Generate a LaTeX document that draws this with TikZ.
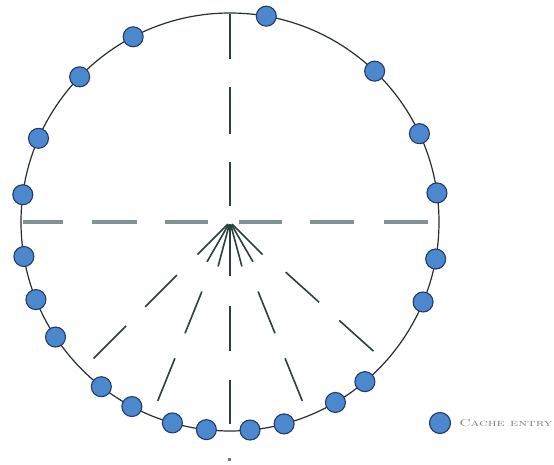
\documentclass[tikz,border=0pt]{standalone}
\usepackage{fontspec}
\usepackage{tikz}
\usetikzlibrary{positioning,calc}
\definecolor{entryblue}{RGB}{76,136,206}
\definecolor{entryedge}{RGB}{36,56,108}
\definecolor{ringcol}{RGB}{38,48,48}
\definecolor{spokecol}{RGB}{44,62,62}
\definecolor{dashcol}{RGB}{128,146,146}
\newcommand{\widesc}[1]{\scalebox{1.45}[1]{\scshape #1}}
\tikzset{
  ringline/.style   = {ringcol, line width=1.2pt},
  spokeln/.style    = {spokecol, line width=1.6pt},
  crossdash/.style  = {dashcol, line width=3.6pt},
  cacheentry/.style = {circle, minimum size=20pt, inner sep=0pt,
                       fill=entryblue, draw=entryedge, line width=1.1pt},
  legendtxt/.style  = {text=black!50, inner sep=0pt,
                       font=\fontsize{10}{10}\selectfont}
}

\begin{document}
\begin{tikzpicture}[x=1pt,y=1pt]
  % picture frame, the ring centre sits at the origin
  \useasboundingbox (-230,-242) rectangle (324,222);
  \coordinate (O) at (0,0);

  % --- the horizontal dashed diameter ------------------------------------
  \draw[crossdash] (-207,0) -- (-167,0);
  \draw[crossdash] (-138,0) -- (-93,0);
  \draw[crossdash] (-65,0) -- (-22,0);
  \draw[crossdash] (9,0) -- (52,0);
  \draw[crossdash] (80,0) -- (124,0);
  \draw[crossdash] (154,0) -- (198,0);

  % --- upper half of the vertical dashed line ----------------------------
  \draw[spokeln] (0,16) -- (0,60);
  \draw[spokeln] (0,88) -- (0,135);
  \draw[spokeln] (0,163) -- (0,208);

  % --- the fan below the centre ------------------------------------------
  % short strokes next to the centre
  \foreach \ang in {225,240,255,285,300,315}
    \draw[spokeln] ($(O)+(\ang:3)$) -- ($(O)+(\ang:46)$);
  \draw[spokeln] (0,-2) -- (0,-54);
  % the dashed rays further out
  \foreach \ang in {225,248,292,318} {
    \draw[spokeln] (\ang:75) -- (\ang:120);
    \draw[spokeln] (\ang:147) -- (\ang:193);
  }
  \draw[spokeln] (0,-84) -- (0,-129);
  \draw[spokeln] (0,-158) -- (0,-202);

  % --- the ring and its cache entries ------------------------------------
  \draw[ringline] (O) circle (209);
  \foreach \ang [count=\i] in {80,117.6,136,156.4,172.5,189.5,201.8,213.4,232,242,
                               254,263.5,275.5,285,300.3,310.2,337.5,349.8,8,25,46.2}
    \node[cacheentry] (e\i) at (\ang:209) {};

  % small mark under the ring
  \fill[spokecol!70] (-2.5,-238.5) rectangle (0.5,-235.5);

  % --- legend ------------------------------------------------------------
  \node[cacheentry, minimum size=21pt] (legdot) at (210,-201) {};
  \node[legendtxt, right=8pt of legdot] (legtext) {\widesc{Cache entry}};
\end{tikzpicture}
\end{document}
